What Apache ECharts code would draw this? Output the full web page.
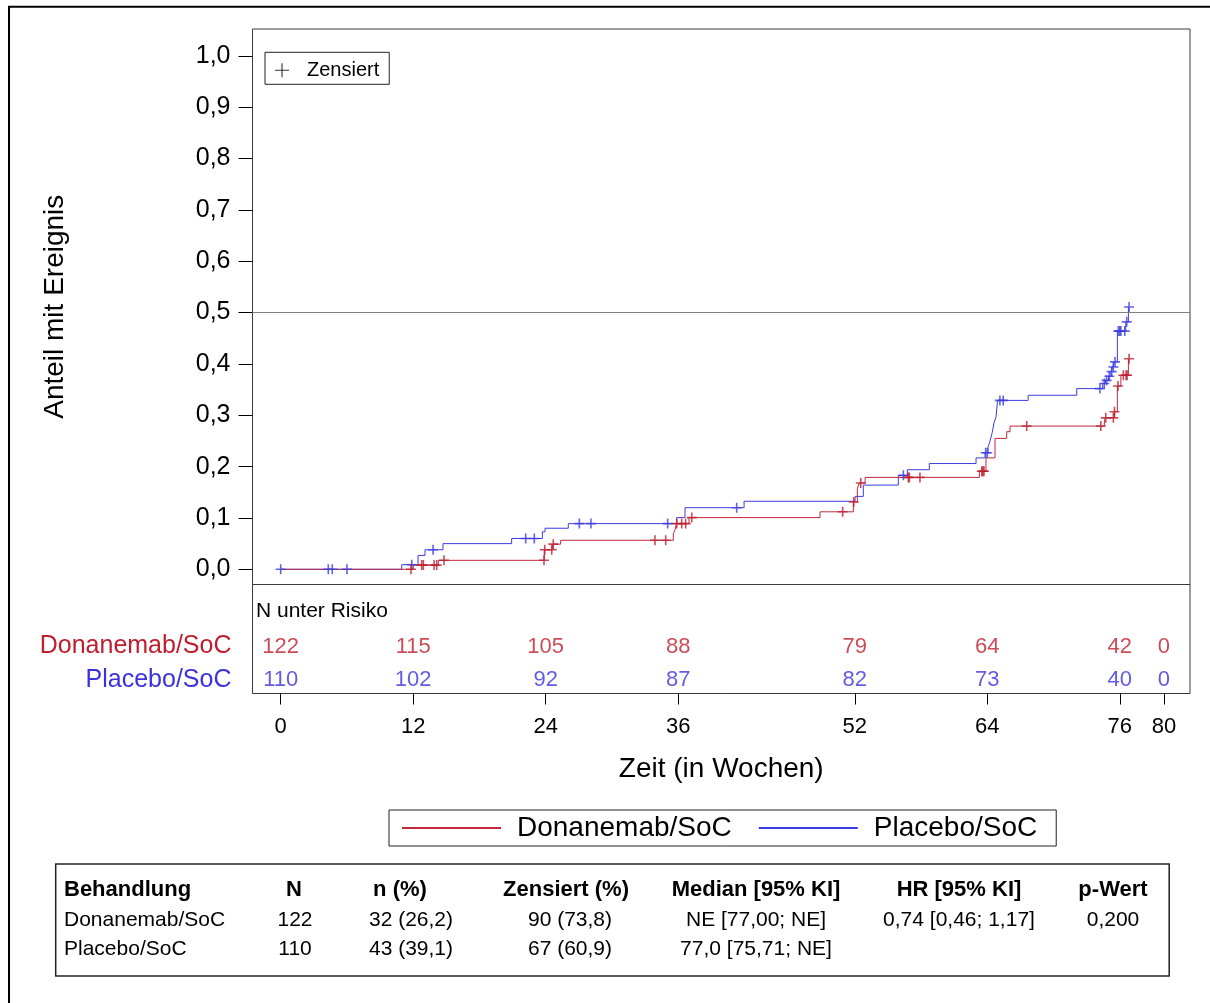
<!DOCTYPE html>
<html>
<head>
<meta charset="utf-8">
<script src="https://cdn.jsdelivr.net/npm/echarts@6.0.0/dist/echarts.min.js"></script>
<style>html,body{margin:0;padding:0;background:#fff;}#c{width:1210px;height:1003px;}</style>
</head>
<body>
<div id="c"></div>
<script>
// ---------- data ----------
const groups = ['Donanemab/SoC', 'Placebo/SoC'];
const xTicks = [0, 12, 24, 36, 52, 64, 76, 80];
const yTicks = [0, 0.1, 0.2, 0.3, 0.4, 0.5, 0.6, 0.7, 0.8, 0.9, 1.0];
const riskDon = [122, 115, 105, 88, 79, 64, 42, 0];
const riskPla = [110, 102, 92, 87, 82, 73, 40, 0];

const donTimes  = [0, 12.01, 14.28, 23.87, 24.6, 25.36, 35.56, 35.7, 35.85, 36.98, 48.85, 51.87, 52.23, 52.4, 52.93, 63.28, 63.88, 64.7, 65.76, 66.06, 74.6, 74.68, 75.5, 75.78, 76.1, 76.78, 76.84];
const donValues = [0, 0.0082, 0.0175, 0.038, 0.049, 0.0565, 0.0695, 0.076, 0.089, 0.1007, 0.112, 0.131, 0.157, 0.168, 0.179, 0.191, 0.217, 0.255, 0.268, 0.279, 0.287, 0.295, 0.307, 0.357, 0.378, 0.41, 0.41];

const plaTimes  = [0, 10.96, 12.44, 13.07, 14.70, 20.92, 23.70, 23.94, 26.05, 35.87, 36.62, 41.97, 52.02, 52.77, 55.94, 56.76, 58.75, 62.98, 63.8, 64.07, 64.25, 64.43, 64.61, 64.79, 64.93, 67.7, 72.1, 74.45, 74.72, 74.97, 75.2, 75.36, 75.5, 75.78, 76.55, 76.78, 76.84];
const plaValues = [0, 0.009, 0.027, 0.038, 0.050, 0.060, 0.073, 0.080, 0.089, 0.1007, 0.120, 0.1325, 0.142, 0.164, 0.183, 0.194, 0.206, 0.217, 0.227, 0.238, 0.250, 0.265, 0.285, 0.297, 0.329, 0.339, 0.352, 0.362, 0.368, 0.376, 0.385, 0.394, 0.404, 0.464, 0.482, 0.511, 0.511];

const donCensTimes  = [11.8, 12.77, 12.92, 13.89, 14.13, 14.79, 23.85, 23.92, 24.55, 24.69, 33.9, 34.87, 35.87, 36.32, 36.68, 37.23, 50.9, 51.9, 52.54, 56.85, 56.94, 57.9, 63.5, 63.59, 63.7, 67.57, 74.28, 74.73, 75.42, 75.52, 75.84, 76.32, 76.57, 76.66, 76.84];
const donCensValues = [0, 0.0082, 0.0082, 0.0082, 0.0082, 0.0175, 0.0175, 0.038, 0.038, 0.049, 0.0565, 0.0565, 0.089, 0.089, 0.089, 0.1007, 0.112, 0.131, 0.168, 0.179, 0.179, 0.179, 0.191, 0.191, 0.191, 0.279, 0.279, 0.295, 0.295, 0.307, 0.357, 0.378, 0.378, 0.378, 0.41];

const plaCensTimes  = [0, 4.31, 4.67, 6.0, 11.87, 13.8, 22.19, 22.97, 27.05, 28.1, 35.05, 41.3, 56.4, 63.85, 64.0, 65.14, 65.44, 74.2, 74.6, 74.8, 75.05, 75.27, 75.42, 75.57, 75.87, 76.0, 76.1, 76.45, 76.63, 76.84];
const plaCensValues = [0, 0, 0, 0, 0.009, 0.038, 0.060, 0.060, 0.089, 0.089, 0.089, 0.120, 0.183, 0.227, 0.227, 0.329, 0.329, 0.352, 0.362, 0.368, 0.376, 0.385, 0.394, 0.404, 0.464, 0.464, 0.464, 0.464, 0.482, 0.511];

const tableHeader = ['Behandlung', 'N', 'n (%)', 'Zensiert (%)', 'Median [95% KI]', 'HR [95% KI]', 'p-Wert'];
const tableRowDon = ['Donanemab/SoC', '122', '32 (26,2)', '90 (73,8)', 'NE [77,00; NE]', '0,74 [0,46; 1,17]', '0,200'];
const tableRowPla = ['Placebo/SoC', '110', '43 (39,1)', '67 (60,9)', '77,0 [75,71; NE]', '', ''];

// ---------- layout / style ----------
const FONT = "'Liberation Sans', Arial, Helvetica, sans-serif";
const RED = '#C0283C', BLUE = '#3C3CE0';
const RED_T = '#BE1E2D', BLUE_T = '#3C32DC';
const X_MIN = -2.554, X_MAX = 82.36;
const GL = 252.5, GW = 937.5;
const PLUS = 'path://M4.2,0h1.6v10h-1.6z M0,4.2h10v1.6h-10z';
const PLUS_THIN = 'path://M4.6,0h0.8v10h-0.8z M0,4.6h10v0.8h-10z';

const zip = (a, b) => a.map((t, i) => [t, b[i]]);

const headX = [64, 294, 400, 566, 756, 959, 1113];
const cellX = [64, 295, 411, 570, 756, 959, 1113];
const rowsY = [920, 949];
const tableTexts = [];
tableHeader.forEach((h, i) => tableTexts.push({
  type: 'text', x: headX[i], y: 890,
  style: { text: h, fontFamily: FONT, fontSize: 22, fontWeight: 'bold', fill: '#000', align: i === 0 ? 'left' : 'center', verticalAlign: 'middle' }
}));
[tableRowDon, tableRowPla].forEach((row, r) => row.forEach((c, i) => tableTexts.push({
  type: 'text', x: cellX[i], y: rowsY[r],
  style: { text: c, fontFamily: FONT, fontSize: 21, fill: '#000', align: i === 0 ? 'left' : 'center', verticalAlign: 'middle' }
})));

const chart = echarts.init(document.getElementById('c'), null, { renderer: 'canvas' });
chart.setOption({
  animation: false,
  backgroundColor: '#fff',
  textStyle: { fontFamily: FONT },
  grid: [
    { left: GL, top: 29, width: GW, height: 555.5, show: true, borderColor: '#3a3a3a', borderWidth: 1, containLabel: false },
    { left: GL, top: 584.5, width: GW, height: 109, show: true, borderColor: '#3a3a3a', borderWidth: 1, containLabel: false },
    { left: GL, top: 596, width: GW, height: 101, show: false, containLabel: false }
  ],
  xAxis: [
    { gridIndex: 0, type: 'value', min: X_MIN, max: X_MAX, axisLine: { show: false, onZero: false }, axisTick: { show: false }, axisLabel: { show: false }, splitLine: { show: false } },
    { gridIndex: 1, type: 'value', min: X_MIN, max: X_MAX, axisLine: { show: false, onZero: false }, splitLine: { show: false },
      axisTick: { show: true, customValues: xTicks, length: 11, lineStyle: { color: '#000', width: 1 } },
      axisLabel: { customValues: xTicks, fontSize: 22, color: '#000', margin: 22, fontFamily: FONT },
      name: 'Zeit (in Wochen)', nameLocation: 'middle', nameGap: 62,
      nameTextStyle: { fontSize: 28, color: '#000', fontFamily: FONT } },
    { gridIndex: 2, type: 'value', min: X_MIN, max: X_MAX, show: false, axisLine: { onZero: false } }
  ],
  yAxis: [
    { gridIndex: 0, type: 'value', min: -0.0296, max: 1.0524, axisLine: { show: false, onZero: false }, splitLine: { show: false },
      axisTick: { show: true, customValues: yTicks, length: 14, lineStyle: { color: '#000', width: 1 } },
      axisLabel: { customValues: yTicks, formatter: v => v.toFixed(1).replace('.', ','), fontSize: 25, color: '#000', margin: 22, fontFamily: FONT, padding: [4, 0, 0, 0] },
      name: 'Anteil mit Ereignis', nameLocation: 'middle', nameGap: 183,
      nameTextStyle: { fontSize: 28, color: '#000', fontFamily: FONT } },
    { gridIndex: 1, type: 'value', min: 0, max: 1, show: false, axisLine: { onZero: false } },
    { gridIndex: 2, type: 'category', inverse: true, data: ['N unter Risiko'].concat(groups),
      axisLine: { show: false, onZero: false }, axisTick: { show: false }, splitLine: { show: false },
      axisLabel: { formatter: (v, i) => (v === groups[0] || v === groups[1]) ? v : '',
                   color: v => v === groups[0] ? RED_T : BLUE_T, fontSize: 25, margin: 21, fontFamily: FONT } }
  ],
  legend: [
    { data: [{ name: 'Zensiert', icon: PLUS_THIN }], left: 265, top: 52.3, orient: 'horizontal',
      itemWidth: 14, itemHeight: 14, padding: [8, 10, 4, 10], borderColor: '#222', borderWidth: 1,
      selectedMode: false, textStyle: { fontSize: 20, color: '#000', fontFamily: FONT, padding: [2, 0, 0, 13] } },
    { data: groups, icon: 'rect', left: 389, top: 810, itemWidth: 99, itemHeight: 2, itemGap: 27,
      padding: [4, 19, 4, 13], borderColor: '#222', borderWidth: 1, selectedMode: false,
      textStyle: { fontSize: 28, color: '#000', fontFamily: FONT, padding: [0, 0, 0, 11] } }
  ],
  series: [
    { name: groups[1], type: 'line', xAxisIndex: 0, yAxisIndex: 0, step: 'end', showSymbol: false, symbol: 'none',
      data: zip(plaTimes, plaValues), color: BLUE, lineStyle: { color: BLUE, width: 1 }, z: 2,
      markLine: { silent: true, symbol: ['none', 'none'], label: { show: false },
                  lineStyle: { color: '#808080', width: 1, type: 'solid' }, data: [{ yAxis: 0.5 }] } },
    { name: groups[0], type: 'line', xAxisIndex: 0, yAxisIndex: 0, step: 'end', showSymbol: false, symbol: 'none',
      data: zip(donTimes, donValues), color: RED, lineStyle: { color: RED, width: 1 }, z: 3 },
    { name: 'Zensiert ' + groups[1], type: 'scatter', xAxisIndex: 0, yAxisIndex: 0, symbol: PLUS, symbolSize: 10,
      data: zip(plaCensTimes, plaCensValues), itemStyle: { color: BLUE }, z: 4 },
    { name: 'Zensiert ' + groups[0], type: 'scatter', xAxisIndex: 0, yAxisIndex: 0, symbol: PLUS, symbolSize: 10,
      data: zip(donCensTimes, donCensValues), itemStyle: { color: RED_T }, z: 5 },
    { name: 'Zensiert', type: 'scatter', xAxisIndex: 0, yAxisIndex: 0, symbol: PLUS_THIN, data: [], itemStyle: { color: '#000' } },
    { name: 'risk ' + groups[0], type: 'scatter', xAxisIndex: 2, yAxisIndex: 2, symbolSize: 1,
      itemStyle: { color: 'rgba(0,0,0,0)' }, silent: true,
      data: xTicks.map((t, i) => [t, groups[0], riskDon[i]]),
      label: { show: true, position: 'inside', formatter: p => String(p.value[2]), color: RED_T, fontSize: 22, fontFamily: FONT } },
    { name: 'risk ' + groups[1], type: 'scatter', xAxisIndex: 2, yAxisIndex: 2, symbolSize: 1,
      itemStyle: { color: 'rgba(0,0,0,0)' }, silent: true,
      data: xTicks.map((t, i) => [t, groups[1], riskPla[i]]),
      label: { show: true, position: 'inside', formatter: p => String(p.value[2]), color: BLUE_T, fontSize: 22, fontFamily: FONT } }
  ],
  graphic: [
    { type: 'rect', shape: { x: 9, y: 6.7, width: 1300, height: 1100 }, style: { fill: 'none', stroke: '#000', lineWidth: 2 }, silent: true },
    { type: 'text', x: 256, y: 611, style: { text: 'N unter Risiko', fontFamily: FONT, fontSize: 21, fill: '#000', align: 'left', verticalAlign: 'middle' } },
    { type: 'rect', shape: { x: 55.7, y: 864, width: 1113.5, height: 112 }, style: { fill: 'none', stroke: '#222', lineWidth: 1.5 }, silent: true }
  ].concat(tableTexts)
});
</script>
</body>
</html>
